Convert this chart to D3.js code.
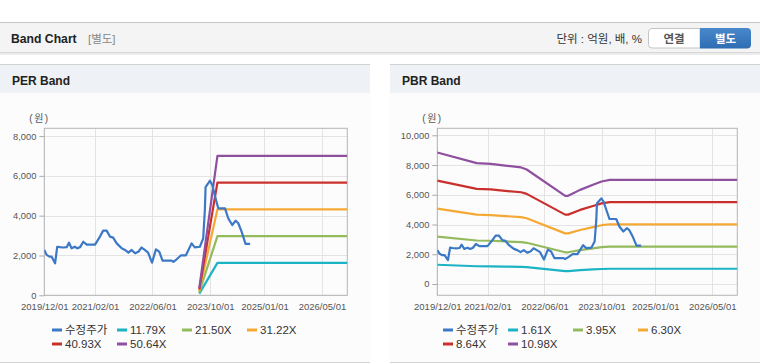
<!DOCTYPE html>
<html><head><meta charset="utf-8">
<script src="https://cdn.jsdelivr.net/npm/d3@7"></script>
<style>
html,body{margin:0;padding:0;background:#fff;}
svg{display:block;font-family:"Liberation Sans","Noto Sans CJK KR",Arial,sans-serif;}
</style></head>
<body><svg id="c" width="760" height="364"></svg>
<script>
// ---- data ----
const priceDates = ["2019-12-01","2019-12-21","2020-01-13","2020-02-01","2020-03-01","2020-03-19","2020-04-10","2020-05-08","2020-06-07","2020-06-26","2020-07-18","2020-08-15","2020-09-05","2020-09-28","2020-10-25","2020-11-23","2021-02-01","2021-03-15","2021-04-11","2021-05-10","2021-06-07","2021-07-04","2021-08-03","2021-09-14","2021-10-12","2021-11-10","2021-12-07","2022-01-05","2022-02-02","2022-03-01","2022-03-28","2022-04-25","2022-05-28","2022-06-30","2022-07-28","2022-08-25","2022-11-10","2022-11-24","2022-12-22","2023-01-28","2023-03-10","2023-04-27","2023-05-24","2023-07-06","2023-08-03","2023-08-17","2023-08-23","2023-09-15","2023-09-29","2023-10-18","2023-11-19","2023-12-08","2024-02-03","2024-03-01","2024-04-04","2024-05-03","2024-05-25","2024-06-22","2024-07-25","2024-09-02"];
const priceValues = [2280,2030,1940,1940,1610,2440,2420,2400,2420,2640,2360,2440,2360,2420,2690,2550,2550,2950,3250,3250,2950,2900,2610,2360,2280,2140,2280,2110,2190,2400,2280,2140,1640,2310,2190,1740,1740,1680,1810,2010,2010,2610,2410,2440,2860,4290,5430,5630,5760,5540,4790,4370,4370,3870,3530,3750,3620,3200,2580,2580];

const perBandDates = ["2023-07-01","2023-12-01","2026-12-01"];
const per1179 = [85,1630,1630];
const per2150 = [155,2975,2975];
const per3122 = [225,4320,4320];
const per4093 = [290,5665,5665];
const per5064 = [360,7005,7005];
const perLabels = ["수정주가","11.79X","21.50X","31.22X","40.93X","50.64X"];

const pbrBandDates = ["2019-12-01","2020-11-01","2021-03-01","2021-07-01","2021-11-15","2022-01-01","2022-11-25","2022-12-20","2023-04-01","2023-07-20","2023-10-01","2023-12-10","2026-12-01"];
const pbr161 = [1296,1192,1185,1167,1150,1129,870,870,928,978,1010,1026,1026];
const pbr395 = [3180,2925,2907,2864,2820,2770,2133,2133,2277,2400,2479,2518,2518];
const pbr630 = [5072,4665,4636,4568,4498,4418,3403,3403,3632,3827,3953,4016,4016];
const pbr864 = [6956,6397,6358,6264,6169,6059,4666,4666,4981,5249,5422,5508,5508];
const pbr1098 = [8840,8130,8080,7960,7840,7700,5930,5930,6330,6670,6890,7000,7000];
const pbrLabels = ["수정주가","1.61X","3.95X","6.30X","8.64X","10.98X"];

const xTickDates = ["2019-12-01","2021-02-01","2022-06-01","2023-10-01","2025-01-01","2026-05-01"];
const xDomainDates = ["2019-12-01","2026-12-01"];
const perYTicks = [0,2000,4000,6000,8000];
const pbrYTicks = [0,2000,4000,6000,8000,10000];
const seriesColors = ["#3b78c6","#1cb3c5","#93ba5c","#f5a935","#c9302c","#8f509f"];

// ---- drawing ----
const parse = d3.timeParse("%Y-%m-%d");
const svg = d3.select("#c");

// top header
svg.append("rect").attr("x",0).attr("y",22).attr("width",760).attr("height",31).attr("fill","#f4f4f4");
svg.append("line").attr("x1",0).attr("x2",760).attr("y1",22.5).attr("y2",22.5).attr("stroke","#c6c6c6");
svg.append("line").attr("x1",0).attr("x2",760).attr("y1",52.5).attr("y2",52.5).attr("stroke","#d6d6d6");
svg.append("rect").attr("x",0).attr("y",53).attr("width",760).attr("height",2).attr("fill","#ececec");
svg.append("text").attr("x",11).attr("y",43).attr("font-size",12.2).attr("font-weight","bold").attr("fill","#222").text("Band Chart");
svg.append("text").attr("x",88).attr("y",43).attr("font-size",11.5).attr("fill","#888").text("[별도]");
svg.append("text").attr("x",642).attr("y",43).attr("font-size",11.5).attr("fill","#333").attr("text-anchor","end").text("단위 : 억원, 배, %");
// buttons
svg.append("path").attr("d","M700,28.5 H652 Q648.5,28.5 648.5,32 V44.5 Q648.5,48 652,48 H700 Z").attr("fill","#fff").attr("stroke","#c4c4c4");
svg.append("text").attr("x",674).attr("y",42.5).attr("font-size",11.5).attr("font-weight","bold").attr("fill","#555").attr("text-anchor","middle").text("연결");
const grad = svg.append("defs").append("linearGradient").attr("id","btn").attr("x1",0).attr("x2",0).attr("y1",0).attr("y2",1);
grad.append("stop").attr("offset","0").attr("stop-color","#4a88cc");
grad.append("stop").attr("offset","1").attr("stop-color","#2f6db3");
svg.append("path").attr("d","M700,28 H747 Q751,28 751,32 V44.5 Q751,48.5 747,48.5 H700 Z").attr("fill","url(#btn)");
svg.append("text").attr("x",725.5).attr("y",42.5).attr("font-size",11.5).attr("font-weight","bold").attr("fill","#fff").attr("text-anchor","middle").text("별도");

function panel(px, title) {
  svg.append("rect").attr("x",px).attr("y",93).attr("width",370).attr("height",269).attr("fill","#fcfcfc");
  svg.append("rect").attr("x",px).attr("y",64).attr("width",370).attr("height",29).attr("fill","#eef1f6");
  svg.append("line").attr("x1",px).attr("x2",px+370).attr("y1",64.5).attr("y2",64.5).attr("stroke","#d2d2d2");
  svg.append("line").attr("x1",px).attr("x2",px+370).attr("y1",362.5).attr("y2",362.5).attr("stroke","#d4d4d4");
  svg.append("text").attr("x",px+12).attr("y",84.5).attr("font-size",12).attr("font-weight","bold").attr("fill","#222").text(title);
}
panel(0,"PER Band");
panel(390,"PBR Band");

function chart(cfg) {
  const x = d3.scaleTime().domain(xDomainDates.map(parse)).range([cfg.left, cfg.right]);
  const y = d3.scaleLinear().domain(cfg.yDomain).range([295.3, 128.3]);
  const g = svg.append("g");
  // grid
  g.selectAll(".vg").data(xTickDates.map(parse)).join("line")
    .attr("x1",d=>Math.round(x(d))+0.5).attr("x2",d=>Math.round(x(d))+0.5)
    .attr("y1",128.3).attr("y2",295.3).attr("stroke","#e4e4e4");
  g.selectAll(".hg").data(cfg.yTicks).join("line")
    .attr("x1",cfg.left).attr("x2",cfg.right)
    .attr("y1",d=>Math.round(y(d))+0.5).attr("y2",d=>Math.round(y(d))+0.5).attr("stroke","#e4e4e4");
  // axes
  const ya = d3.axisLeft(y).tickValues(cfg.yTicks).tickFormat(d3.format(",")).tickSize(5).tickPadding(3);
  const yg = g.append("g").attr("transform",`translate(${cfg.left},0)`).call(ya);
  yg.select(".domain").remove();
  yg.selectAll("line").attr("stroke","#aaa");
  yg.selectAll("text").attr("font-size",9.3).attr("fill","#555").attr("font-family","Liberation Sans, Arial, sans-serif");
  const xa = d3.axisBottom(x).tickValues(xTickDates.map(parse)).tickFormat(d3.timeFormat("%Y/%m/%d")).tickSize(0).tickPadding(8);
  const xg = g.append("g").attr("transform",`translate(0,295.3)`).call(xa);
  xg.select(".domain").remove();
  xg.selectAll("text").attr("font-size",9.5).attr("fill","#555").attr("font-family","Liberation Sans, Arial, sans-serif");
  // frame
  g.append("rect").attr("x",cfg.left).attr("y",128.3).attr("width",cfg.right-cfg.left).attr("height",167)
    .attr("fill","none").attr("stroke","#b4b4b4");
  g.append("text").attr("x",cfg.left-15).attr("y",121.5).attr("font-size",10).attr("fill","#555").attr("letter-spacing",1.5).text("(원)");
  // lines
  const line = d3.line().x(d=>x(d[0])).y(d=>y(d[1]));
  const clip = "clip"+cfg.left;
  svg.append("clipPath").attr("id",clip).append("rect").attr("x",cfg.left).attr("y",128.3).attr("width",cfg.right-cfg.left).attr("height",167);
  const lg = g.append("g").attr("clip-path",`url(#${clip})`);
  const bandDates = cfg.bandDates.map(parse);
  cfg.bands.forEach((vals,i)=>{
    lg.append("path").datum(bandDates.map((d,j)=>[d,vals[j]])).attr("d",line)
      .attr("fill","none").attr("stroke",seriesColors[i+1]).attr("stroke-width",2.2).attr("stroke-linejoin","round");
  });
  lg.append("path").datum(priceDates.map((d,j)=>[parse(d),priceValues[j]])).attr("d",line)
    .attr("fill","none").attr("stroke",seriesColors[0]).attr("stroke-width",2.2).attr("stroke-linejoin","round");
  // legend
  const lgd = g.append("g");
  cfg.labels.forEach((lab,i)=>{
    const col = i<4 ? i : i-4, row = i<4 ? 0 : 1;
    const lx = cfg.legendX + col*65, ly = 330 + row*14;
    lgd.append("rect").attr("x",lx).attr("y",ly-1.5).attr("width",10).attr("height",3).attr("fill",seriesColors[i]);
    lgd.append("text").attr("x",lx+13).attr("y",ly+4.2).attr("font-size",11.5).attr("fill","#333").text(lab);
  });
}

chart({left:44.3, right:347.3, yDomain:[0,8390], yTicks:perYTicks, bandDates:perBandDates,
  bands:[per1179,per2150,per3122,per4093,per5064], labels:perLabels, legendX:52});
chart({left:437.3, right:737.3, yDomain:[-760,10470], yTicks:pbrYTicks, bandDates:pbrBandDates,
  bands:[pbr161,pbr395,pbr630,pbr864,pbr1098], labels:pbrLabels, legendX:443});
</script></body></html>
